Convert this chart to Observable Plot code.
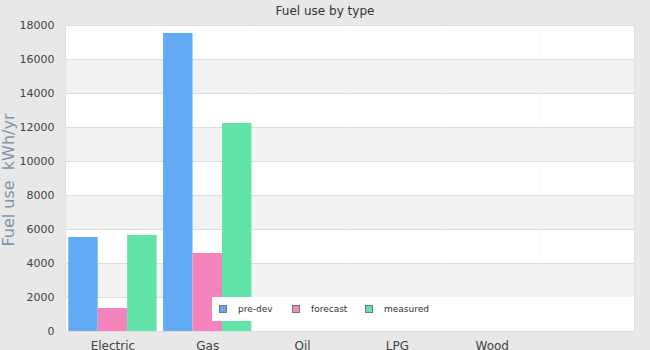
<!DOCTYPE html>
<html><head><meta charset="utf-8">
<script src="https://cdn.jsdelivr.net/npm/d3@7"></script>
<script src="https://cdn.jsdelivr.net/npm/@observablehq/plot@0.6"></script>
<style>
body{margin:0;background:#e8e8e8;}
#wrap{position:relative;width:650px;height:350px;overflow:hidden;background:#e8e8e8;font-family:"DejaVu Sans",sans-serif;}
#title{position:absolute;top:4px;left:0;width:650px;text-align:center;font-size:12px;color:#333;}
#ylab{position:absolute;left:-91px;top:170px;width:200px;height:20px;line-height:20px;text-align:center;transform:rotate(-90deg);font-size:16px;color:#8094aa;white-space:pre;}
#legend{position:absolute;left:212px;top:297px;width:422px;height:24px;background:#fff;display:flex;align-items:center;font-size:9px;color:#333;}
.item{display:flex;align-items:center;margin-left:7px;width:66px;}
.sw{width:6px;height:6px;border:1px solid #777;margin-right:11px;}
#chart{position:absolute;left:0;top:0;}
</style>
</head><body>
<div id="wrap">
<div id="chart"></div>
<div id="title"></div>
<div id="ylab"></div>
<div id="legend"></div>
</div>
<script>
const title = "Fuel use by type";
const yLabel = "Fuel use  kWh/yr";
const categories = ["Electric", "Gas", "Oil", "LPG", "Wood", " "];
const series = ["pre-dev", "forecast", "measured"];
const preDev = [5530, 17530, 0, 0, 0, 0];
const forecast = [1350, 4590, 0, 0, 0, 0];
const measured = [5650, 12240, 0, 0, 0, 0];
const yTicks = [0, 2000, 4000, 6000, 8000, 10000, 12000, 14000, 16000, 18000];
const colors = ["#62aaf4", "#f283bb", "#62e3a8"];

const valuesBySeries = [preDev, forecast, measured];
const rows = [];
categories.forEach((c, i) => {
  series.forEach((s, j) => {
    rows.push({category: c, series: s, value: valuesBySeries[j][i]});
  });
});
const bands = yTicks.slice(0, -1).map((t, i) => ({y1: t, y2: yTicks[i + 1], shade: i % 2 === 1})).filter(b => b.shade);

const chart = Plot.plot({
  width: 650, height: 350,
  marginLeft: 65, marginRight: 16, marginTop: 25, marginBottom: 19,
  style: {background: "transparent", fontFamily: "DejaVu Sans", fontSize: "11px", color: "#444"},
  fx: {domain: categories, padding: 0, round: false, label: null},
  x: {domain: series, paddingInner: 0, paddingOuter: 0.11, round: false, axis: null},
  y: {domain: [0, 18000], label: null},
  color: {domain: series, range: colors},
  marks: [
    Plot.frame({fill: "white", stroke: null}),
    Plot.rect(bands, {y1: "y1", y2: "y2", fill: "#f2f2f2"}),
    Plot.ruleY(yTicks, {stroke: "#dedede"}),
    Plot.barY(rows, {fx: "category", x: "series", y: "value", fill: "series"}),
    Plot.frame({anchor: "left", stroke: "#dedede", facetAnchor: "left"}),
    Plot.frame({anchor: "right", stroke: "#dedede", facetAnchor: "right"}),
    Plot.axisY(yTicks, {tickSize: 0, tickPadding: 11, label: null, fontSize: 11, fill: "#444", tickFormat: d3.format("d")}),
    Plot.axisFx({anchor: "bottom", tickSize: 0, tickPadding: 10, label: null, fontSize: 12, fill: "#444"})
  ]
});
document.getElementById("chart").appendChild(chart);
document.getElementById("title").textContent = title;
document.getElementById("ylab").textContent = yLabel;
const legend = document.getElementById("legend");
series.forEach((s, i) => {
  const it = document.createElement("div");
  it.className = "item";
  const sw = document.createElement("div");
  sw.className = "sw";
  sw.style.background = colors[i];
  const t = document.createElement("span");
  t.textContent = s;
  it.appendChild(sw); it.appendChild(t);
  legend.appendChild(it);
});
</script>
</body></html>
